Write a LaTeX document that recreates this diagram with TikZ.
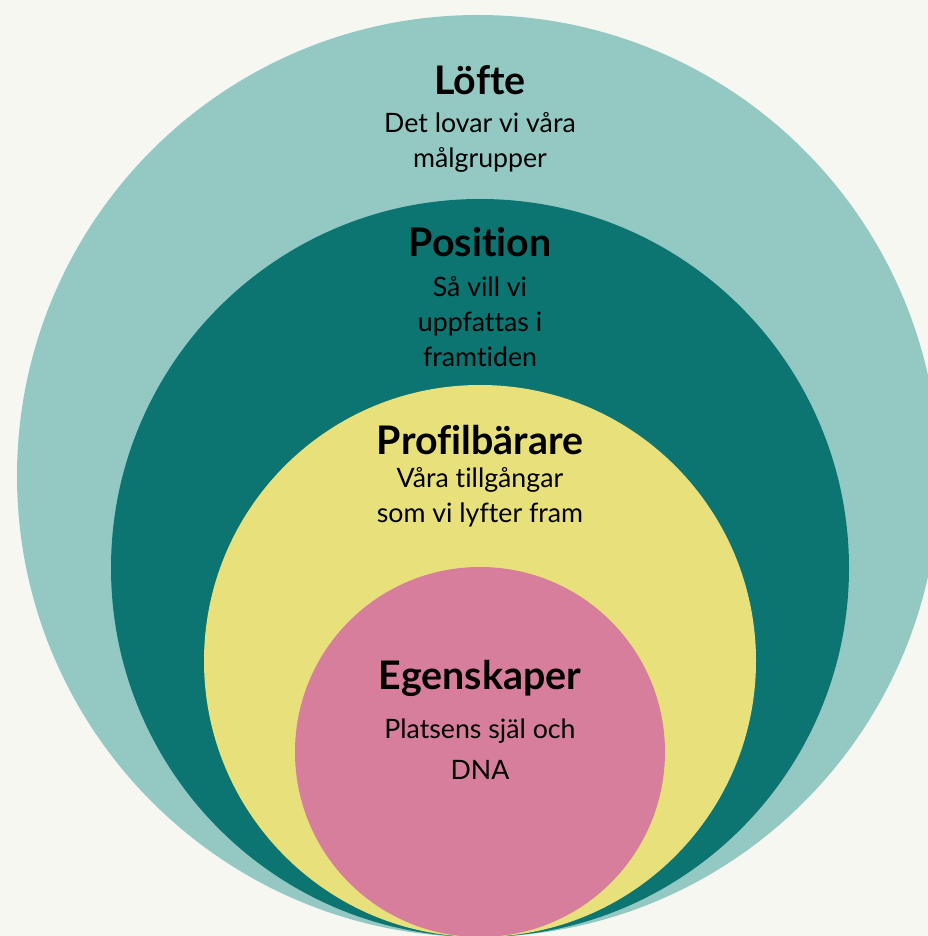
\documentclass[tikz,border=0pt]{standalone}
\usepackage{fontspec}
\setmainfont{Lato}[Ligatures=NoCommon]

\tikzset{
  layertitle/.style={font=\fontsize{28}{31}\selectfont\bfseries, anchor=base, inner sep=0pt},
  layertext/.style={font=\fontsize{19}{24.9}\selectfont, align=center, anchor=base, inner sep=0pt}
}

\begin{document}
\begin{tikzpicture}
    % Define colors
    \definecolor{bgcolor}{RGB}{247,247,242}   % paper
    \definecolor{loftecolor}{RGB}{148,201,195} % light teal
    \definecolor{poscolor}{RGB}{12,116,113}    % dark teal
    \definecolor{profcolor}{RGB}{232,224,122}  % yellow
    \definecolor{egencolor}{RGB}{215,126,157}  % pink

    % Canvas
    \useasboundingbox (0,0) rectangle (23.2,23.4);
    \fill[bgcolor] (0,0) rectangle (23.2,23.4);
    \clip (0,0) rectangle (23.2,23.4);

    % Nested circles (all touching at the bottom)
    \fill[loftecolor] (11.95,11.5) circle (11.525);
    \fill[poscolor] (12,9.2) circle (9.225);
    \fill[profcolor] (12,6.875) circle (6.9);
    \fill[egencolor] (12,4.6) circle (4.625);

    % Outer ring
    \node[layertitle] (lofte) at (12,21.025) {Löfte};
    \node[layertext] (loftetext) at (12,19.2) {Det lovar vi våra\\målgrupper};

    % Second ring
    \node[layertitle] (position) at (12,16.975) {Position};
    \node[layertext] (positiontext) at (12,14.225) {Så vill vi\\uppfattas i\\framtiden};

    % Third ring
    \node[layertitle] (profil) at (12,12.025) {Profilbärare};
    \node[layertext] (profiltext) at (12,10.325) {Våra tillgångar\\som vi lyfter fram};

    % Core
    \node[layertitle] (egen) at (12,6.15) {Egenskaper};
    \node[layertext, font=\fontsize{19}{29.2}\selectfont] (egentext) at (12,3.9) {Platsens själ och\\DNA};
\end{tikzpicture}
\end{document}
